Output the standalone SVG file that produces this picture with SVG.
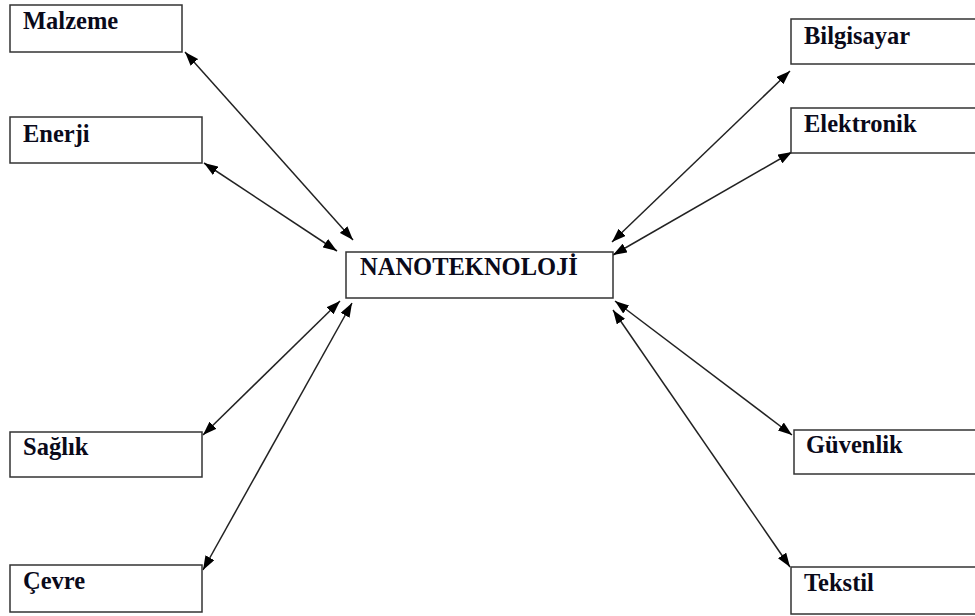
<svg xmlns="http://www.w3.org/2000/svg" width="975" height="616" viewBox="0 0 975 616">
<style>
.box{fill:#fff;stroke:#333;stroke-width:1.5}
.lbl{font-family:"Liberation Serif","Times New Roman",serif;font-weight:bold;font-size:24.5px;fill:#0a0a1a}
.con{stroke:#222;stroke-width:1.5;fill:none;marker-start:url(#ah);marker-end:url(#ah)}
</style>
<defs>
<marker id="ah" viewBox="0 0 14 10" refX="14" refY="5" markerWidth="14" markerHeight="10" markerUnits="userSpaceOnUse" orient="auto-start-reverse">
<path d="M0,0 L14,5 L0,10 z" fill="#000"/>
</marker>
</defs>
<rect width="975" height="616" fill="#fff"/>
<g id="connectors">
<line class="con" x1="185" y1="52" x2="353" y2="240"/>
<line class="con" x1="204" y1="163" x2="337" y2="251"/>
<line class="con" x1="203" y1="435" x2="340" y2="301"/>
<line class="con" x1="203" y1="570" x2="352" y2="303"/>
<line class="con" x1="790" y1="71" x2="612" y2="242"/>
<line class="con" x1="792" y1="152" x2="613" y2="255"/>
<line class="con" x1="792" y1="435" x2="615" y2="301"/>
<line class="con" x1="790" y1="567" x2="613" y2="310"/>
</g>
<g id="nano">
<rect class="box" x="346" y="252" width="267" height="46"/>
<text class="lbl" x="360" y="275">NANOTEKNOLOJİ</text>
</g>
<g id="malzeme">
<rect class="box" x="10" y="5" width="172" height="47"/>
<text class="lbl" x="23" y="29">Malzeme</text>
</g>
<g id="enerji">
<rect class="box" x="10" y="117" width="192" height="46"/>
<text class="lbl" x="23" y="142">Enerji</text>
</g>
<g id="saglik">
<rect class="box" x="10" y="432" width="192" height="45"/>
<text class="lbl" x="23" y="455">Sağlık</text>
</g>
<g id="cevre">
<rect class="box" x="10" y="565" width="192" height="47"/>
<text class="lbl" x="23" y="589">Çevre</text>
</g>
<g id="bilgisayar">
<rect class="box" x="791" y="19" width="200" height="45"/>
<text class="lbl" x="804" y="44">Bilgisayar</text>
</g>
<g id="elektronik">
<rect class="box" x="791" y="108" width="200" height="45"/>
<text class="lbl" x="804" y="132">Elektronik</text>
</g>
<g id="guvenlik">
<rect class="box" x="794" y="430" width="200" height="44"/>
<text class="lbl" x="806" y="453">Güvenlik</text>
</g>
<g id="tekstil">
<rect class="box" x="791" y="567" width="200" height="47"/>
<text class="lbl" x="804" y="591">Tekstil</text>
</g>
</svg>
